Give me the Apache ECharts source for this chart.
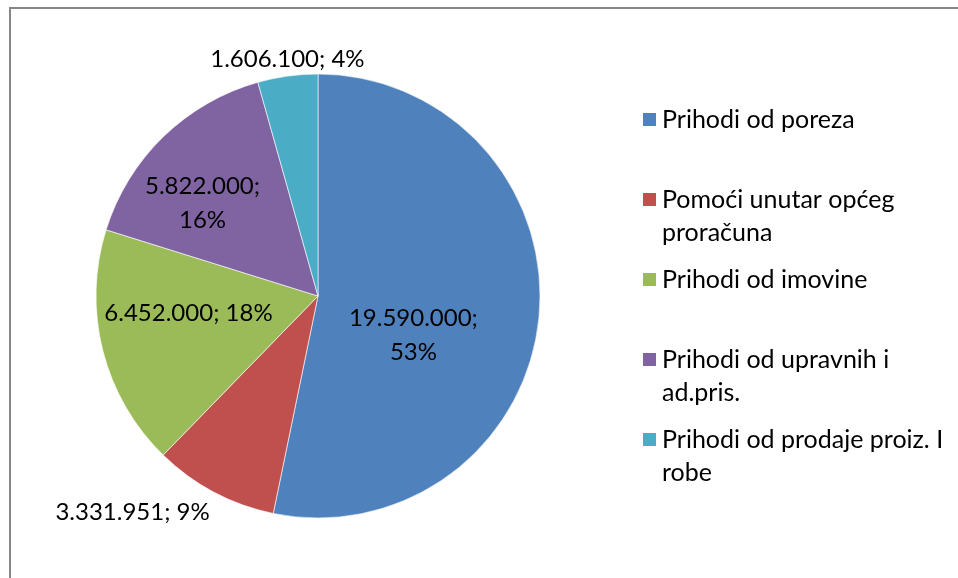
<!DOCTYPE html>
<html>
<head>
<meta charset="utf-8">
<script src="https://cdn.jsdelivr.net/npm/echarts@6/dist/echarts.min.js"></script>
<style>
  html, body { margin: 0; padding: 0; background: #fff; }
  #chart { width: 958px; height: 578px; }
</style>
</head>
<body>
<div id="chart"></div>
<script>
// Podaci
var categories = ['Prihodi od poreza', 'Pomoći unutar općeg proračuna', 'Prihodi od imovine', 'Prihodi od upravnih i ad.pris.', 'Prihodi od prodaje proiz. I robe'];
var values = [19590000, 3331951, 6452000, 5822000, 1606100];
var legendLabels = ['Prihodi od poreza', 'Pomoći unutar općeg\nproračuna', 'Prihodi od imovine', 'Prihodi od upravnih i\nad.pris.', 'Prihodi od prodaje proiz. I\nrobe'];
var colors = ['#4F81BD', '#C0504D', '#9BBB59', '#8064A2', '#4BACC6'];

// razmak izmedju vrijednosti i postotka (Excel prelama neke oznake)
var labelSep = ['\n', ' ', ' ', '\n', ' '];
// pomak oznaka u odnosu na "inside" poziciju
var labelOffsets = [[-18, 28], [-132, 116], [-19, -11], [-36, -11], [-15, -124]];

var FONT = 'Lato';

function fmtBroj(v) {
  return String(v).replace(/\B(?=(\d{3})+(?!\d))/g, '.');
}

var myChart = echarts.init(document.getElementById('chart'));

var pieData = values.map(function (v, i) {
  return {
    value: v,
    name: categories[i],
    itemStyle: { color: colors[i] },
    label: { offset: labelOffsets[i] }
  };
});

var option = {
  animation: false,
  graphic: [
    {
      type: 'rect',
      shape: { x: 10, y: 8, width: 1000, height: 1000 },
      style: { fill: 'none', stroke: '#878787', lineWidth: 2 },
      silent: true
    }
  ],
  legend: {
    orient: 'vertical',
    left: 641,
    top: 70,
    padding: 0,
    itemWidth: 15,
    itemHeight: 15,
    itemGap: -19,
    icon: 'rect',
    data: categories,
    formatter: function (name) {
      var idx = categories.indexOf(name);
      var txt = legendLabels[idx];
      // prazna linija prije, da marker stoji uz prvi red
      if (txt.indexOf('\n') < 0) return '\n' + txt + '\n ';
      return ' \n' + txt;
    },
    textStyle: {
      fontFamily: FONT,
      fontSize: 25,
      lineHeight: 33,
      color: '#000'
    }
  },
  series: [
    {
      type: 'pie',
      center: [318, 296],
      radius: 222,
      startAngle: 90,
      clockwise: true,
      percentPrecision: 0,
      avoidLabelOverlap: false,
      itemStyle: { borderColor: '#fff', borderWidth: 0.6 },
      label: {
        show: true,
        position: 'inside',
        fontFamily: FONT,
        fontSize: 24,
        lineHeight: 34,
        color: '#000',
        align: 'center',
        formatter: function (p) {
          return fmtBroj(p.value) + ';' + labelSep[p.dataIndex] + p.percent + '%';
        }
      },
      labelLine: { show: false },
      emphasis: { disabled: true },
      data: pieData
    }
  ]
};
myChart.setOption(option);
</script>
</body>
</html>
